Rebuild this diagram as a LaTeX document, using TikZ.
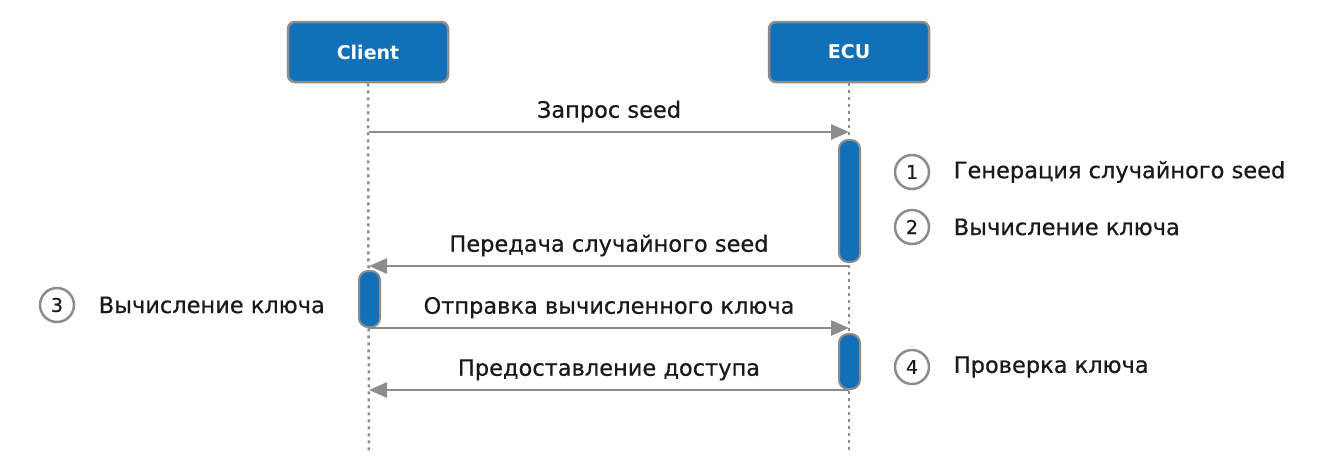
\documentclass[tikz,border=0pt]{standalone}
\usepackage{fontspec}
\setmainfont{DejaVu Sans}
\newfontfamily\labelfont{DejaVu Sans}[FakeBold=0.6]
\usetikzlibrary{arrows.meta, positioning}

\definecolor{ecublue}{HTML}{1170B8}
\definecolor{linegray}{HTML}{8C8C8C}
\definecolor{textdark}{HTML}{1A1A1A}

\begin{document}
\begin{tikzpicture}[x=1pt, y=-1pt,
	actor/.style={draw=linegray, line width=2.5pt, fill=ecublue, rounded corners=7pt,
		minimum width=160pt, minimum height=60pt, text=white, font=\fontsize{19}{22}\selectfont\bfseries},
	lifeline/.style={linegray, line width=2.5pt, dash pattern=on 3pt off 4pt},
	msg/.style={linegray, line width=2.5pt, -{Triangle[length=18pt, width=15pt]}},
	msglabel/.style={midway, above=5pt, text=textdark, font=\labelfont\fontsize{22.5}{26}\selectfont},
	activebar/.style={draw=linegray, line width=2pt, fill=ecublue, rounded corners=9pt},
	stepnum/.style={circle, draw=linegray, line width=2.5pt, minimum size=34pt, inner sep=0pt,
		text=textdark, font=\labelfont\fontsize{19}{21}\selectfont},
	steptext/.style={right=20pt of #1, text=textdark, font=\labelfont\fontsize{22.5}{26}\selectfont}]

	\useasboundingbox (0,0) rectangle (1320,469);

	% Draw the two participants
	\node[actor] (client) at (368,52) {Client};
	\node[actor] (ecu) at (849,52) {ECU};

	% Draw the lifelines
	\coordinate (clientEnd) at (369,452);
	\coordinate (ecuEnd) at (849,452);
	\draw[lifeline] (client.south) -- (clientEnd);
	\draw[lifeline] (ecu.south) -- (ecuEnd);

	% Activation bars
	\draw[activebar] (839,140) rectangle (860,262);
	\draw[activebar] (359,271) rectangle (380,327);
	\draw[activebar] (839,334) rectangle (860,389);

	% Message points on the lifelines
	\coordinate (c1) at (369,132);
	\coordinate (e1) at (849,132);
	\coordinate (e2) at (849,266);
	\coordinate (c2) at (369,266);
	\coordinate (c3) at (369,328);
	\coordinate (e3) at (849,328);
	\coordinate (e4) at (849,390);
	\coordinate (c4) at (369,390);

	% Draw the messages
	\draw[msg] (c1) -- (e1) node[msglabel] {Запрос seed};
	\draw[msg] (e2) -- (c2) node[msglabel] {Передача случайного seed};
	\draw[msg] (c3) -- (e3) node[msglabel] {Отправка вычисленного ключа};
	\draw[msg] (e4) -- (c4) node[msglabel] {Предоставление доступа};

	% Numbered steps
	\node[stepnum] (s1) at (912,172) {1};
	\node[steptext=s1] (t1) {Генерация случайного seed};
	\node[stepnum] (s2) at (912,227) {2};
	\node[steptext=s2] (t2) {Вычисление ключа};
	\node[stepnum] (s3) at (57,305) {3};
	\node[steptext=s3] (t3) {Вычисление ключа};
	\node[stepnum] (s4) at (912,367) {4};
	\node[steptext=s4] (t4) {Проверка ключа};

\end{tikzpicture}
\end{document}
